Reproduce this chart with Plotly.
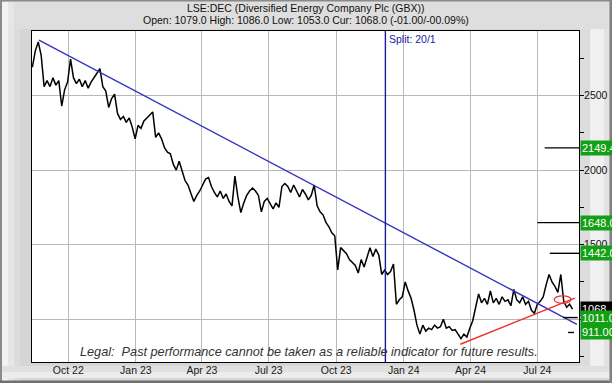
import plotly.graph_objects as go
import pandas as pd

# ---------------- data ----------------
price = [2690, 2800, 2860, 2770, 2560, 2600, 2560, 2620, 2570, 2600,
         2430, 2540, 2590, 2745, 2620, 2580, 2610, 2560, 2600, 2550,
         2590, 2620, 2650, 2680, 2560, 2530, 2420, 2480, 2510, 2380,
         2340, 2360, 2320, 2350, 2290, 2210, 2300, 2280, 2330, 2350,
         2370, 2390, 2220, 2250, 2210, 2150, 2120, 2110, 2040, 2000,
         2060, 1990, 1930, 1900, 1840, 1790, 1830, 1860, 1900, 1940,
         1950, 1890, 1850, 1820, 1860, 1810, 1840, 1790, 1760, 1960,
         1820, 1715, 1780, 1830, 1860, 1880, 1860, 1830, 1720, 1790,
         1810, 1770, 1740, 1780, 1750, 1890, 1910, 1890, 1850, 1900,
         1860, 1820, 1870, 1840, 1800, 1830, 1900, 1760, 1720, 1700,
         1650, 1620, 1580, 1560, 1330, 1480, 1460, 1440, 1400, 1380,
         1360, 1310, 1400, 1350, 1420, 1480, 1420, 1470, 1430, 1300,
         1330, 1300, 1320, 1370, 1100, 1130, 1150, 1250, 1190, 1140,
         1060, 960, 900, 960, 920, 940, 930, 960, 940, 950,
         1000, 940, 950, 925, 930, 900, 870, 900, 880, 940,
         990, 1080, 1170, 1110, 1140, 1100, 1190, 1110, 1140, 1100,
         1150, 1120, 1130, 1090, 1200, 1130, 1110, 1150, 1100, 1120,
         1060, 1040, 1100, 1120, 1150, 1230, 1300, 1250, 1220, 1180,
         1300, 1120, 1080, 1100, 1068]
dates = pd.date_range("2022-08-13", periods=len(price), freq="4D")

down_dates = ["2022-08-22", "2024-08-24"]
down_vals = [2871, 966]
up_dates = ["2024-03-18", "2024-08-21"]
up_vals = [832, 1141]

split_date = "2023-12-07"
split_label = "Split: 20/1"

targets = [2149.4, 1648.0, 1442.0, 1011.0, 911.0]
target_labels = ["2149.4", "1648.0", "1442.0", "1011.0", "911.00"]
target_from = ["2024-07-11", "2024-07-01", "2024-07-18", "2024-08-05", "2024-08-12"]
target_to = ["2024-08-27", "2024-08-27", "2024-08-27", "2024-08-25", "2024-08-20"]

cur_value = 1068.0
cur_label = "1068"

circle_dates = ["2024-07-24", "2024-08-16"]
circle_vals = [1106, 1157]

xtick_dates = ["2022-10-01", "2023-01-01", "2023-04-01", "2023-07-01",
               "2023-10-01", "2024-01-01", "2024-04-01", "2024-07-01"]
xtick_text = ["Oct 22", "Jan 23", "Apr 23", "Jul 23", "Oct 23", "Jan 24", "Apr 24", "Jul 24"]
ytick_vals = [1000, 1500, 2000, 2500]
ytick_text = ["1000", "1500", "2000", "2500"]

title1 = "LSE:DEC (Diversified Energy Company Plc (GBX))"
title2 = "Open: 1079.0 High: 1086.0 Low: 1053.0 Cur: 1068.0 (-01.00/-00.09%)"
legal = "Legal:  Past performance cannot be taken as a reliable indicator for future results."

# ---------------- layout geometry ----------------
W, H = 612, 383
L, R, T, B = 32, 33, 31, 21
PW, PH = W - L - R, H - T - B
XRANGE = ["2022-08-12 12:00", "2024-08-26 19:00"]
YRANGE = [713, 2933]


def px(x):
    return (x - L) / PW


def py(y):
    return (H - B - y) / PH


FONT = "Liberation Sans, Arial, sans-serif"
GRID = "#b8b8b8"

fig = go.Figure()
fig.add_trace(go.Scatter(x=dates, y=price, mode="lines",
                         line=dict(color="black", width=1.5), hoverinfo="skip"))
fig.add_trace(go.Scatter(x=down_dates, y=down_vals, mode="lines",
                         line=dict(color="#3535c0", width=1.4), hoverinfo="skip"))
fig.add_trace(go.Scatter(x=up_dates, y=up_vals, mode="lines",
                         line=dict(color="#ee3030", width=1.4), hoverinfo="skip"))

shapes = []


def rect(x0, y0, x1, y1, color):
    shapes.append(dict(type="rect", xref="paper", yref="paper",
                       x0=px(x0), x1=px(x1), y0=py(y1), y1=py(y0),
                       fillcolor=color, line=dict(width=0), layer="below"))


# frame / bevel decoration (outside the plotting area)
rect(0, 0, 612, 29, "#dedede")
rect(2, 2, 8, 381, "#f2f2f2")
rect(8, 2, 14, 381, "#e6e6e6")
rect(14, 29, 20, 381, "#dcdcdc")
rect(2, 372, 610, 378, "#ececec")
rect(2, 366, 610, 372, "#e0e0e0")
rect(580, 29, 590, 366, "#dcdcdc")
rect(590, 29, 604, 366, "#f0f0f0")
rect(604, 29, 609, 366, "#e2e2e2")
rect(0, 0, 2, 383, "#8a8a8a")
rect(0, 0, 612, 1.5, "#8a8a8a")
rect(0, 380.5, 612, 383, "#707070")
rect(609.5, 0, 612, 383, "#808080")

# split line
shapes.append(dict(type="line", xref="x", yref="paper", x0=split_date, x1=split_date,
                   y0=0, y1=1, line=dict(color="#1c1c9c", width=1.4)))
# target lines
for v, a, b in zip(targets, target_from, target_to):
    shapes.append(dict(type="line", xref="x", yref="y", x0=a, x1=b, y0=v, y1=v,
                       line=dict(color="black", width=1.4)))
# red ellipse
shapes.append(dict(type="circle", xref="x", yref="y",
                   x0=circle_dates[0], x1=circle_dates[1],
                   y0=circle_vals[0], y1=circle_vals[1],
                   line=dict(color="#ee3030", width=1.2)))

annotations = [
    dict(text=title1, xref="paper", yref="paper", x=px(306), y=py(8),
         xanchor="center", yanchor="middle", showarrow=False,
         font=dict(family=FONT, size=10.5, color="#111")),
    dict(text=title2, xref="paper", yref="paper", x=px(306), y=py(20.5),
         xanchor="center", yanchor="middle", showarrow=False,
         font=dict(family=FONT, size=10.5, color="#111")),
    dict(text=legal, xref="paper", yref="paper", x=px(308.5), y=py(352),
         xanchor="center", yanchor="middle", showarrow=False,
         font=dict(family=FONT, size=12.7, color="#333", style="italic")),
    dict(text=split_label, xref="x", yref="paper", x=split_date, y=py(39),
         xanchor="left", yanchor="middle", xshift=2, showarrow=False,
         font=dict(family=FONT, size=10.5, color="#1a1aa0")),
    dict(text=cur_label + "  ", xref="paper", yref="y", x=px(580), y=cur_value,
         xanchor="left", yanchor="middle", showarrow=False, align="left",
         bgcolor="black", borderpad=1,
         font=dict(family=FONT, size=11, color="white")),
]
for v, lab in zip(targets, target_labels):
    annotations.append(dict(text=lab + " ", xref="paper", yref="y", x=px(580), y=v,
                            xanchor="left", yanchor="middle", showarrow=False, align="left",
                            bgcolor="#14a014", borderpad=1,
                            font=dict(family=FONT, size=11, color="white")))

fig.update_layout(
    width=W, height=H,
    margin=dict(l=L, r=R, t=T, b=B, pad=0, autoexpand=False),
    paper_bgcolor="#d6d6d6",
    plot_bgcolor="white",
    showlegend=False,
    shapes=shapes,
    annotations=annotations,
    xaxis=dict(type="date", range=XRANGE,
               tickvals=xtick_dates, ticktext=xtick_text, automargin=False,
               showgrid=True, gridcolor=GRID, gridwidth=1,
               showline=True, linecolor="black", linewidth=1, mirror=True,
               ticks="", zeroline=False, ticklabelstandoff=-2,
               tickfont=dict(family=FONT, size=10.5, color="#1a1a1a")),
    yaxis=dict(side="right", range=YRANGE, automargin=False,
               tickvals=ytick_vals, ticktext=ytick_text,
               showgrid=True, gridcolor=GRID, gridwidth=1,
               showline=True, linecolor="black", linewidth=1, mirror=True,
               ticks="outside", ticklen=4, tickcolor="black", zeroline=False,
               ticklabelstandoff=-2,
               minor=dict(dtick=250, tick0=0, ticks="outside", ticklen=4,
                          tickcolor="black", showgrid=False),
               tickfont=dict(family=FONT, size=10.5, color="#111")),
)

fig.write_html("out.html")
